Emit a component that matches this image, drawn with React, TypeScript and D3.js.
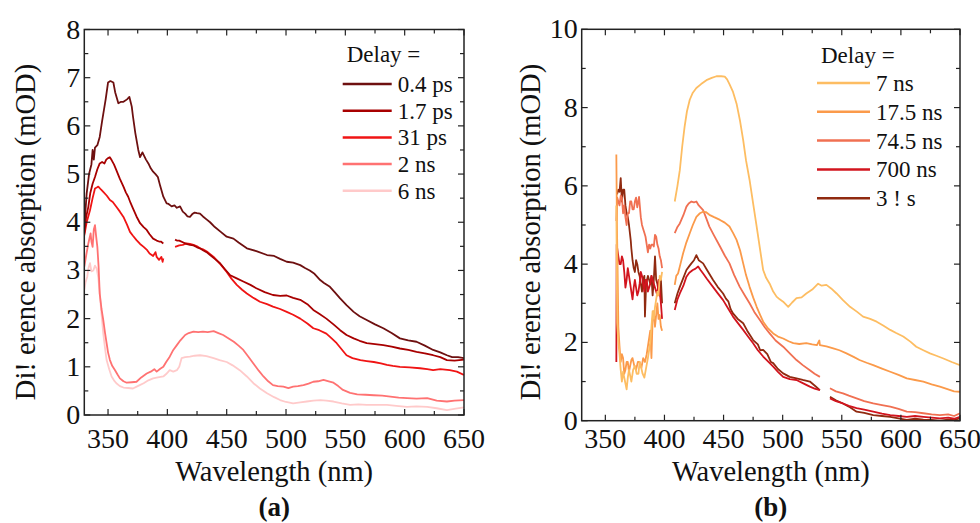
import React from "react";
import * as d3 from "d3";

type Pt = [number, number | null];

// ---------- Panel (a) ----------
const legendA = ["0.4 ps", "1.7 ps", "31 ps", "2 ns", "6 ns"];
const colorsA = ["#6e1010", "#a80000", "#f01414", "#ff7272", "#ffcaca"];

const a04ps: Pt[] = [
  [330, 3.9], [332, 4.6], [334, 5.0], [336, 5.2], [337, 5.5], [338, 5.3], [339, 5.55], [341, 5.6], [343, 5.77],
  [345, 6.1], [346, 6.25], [348, 6.55], [350, 6.9], [352, 6.93], [354.5, 6.9], [356, 6.7], [358.7, 6.47],
  [361, 6.5], [363, 6.5], [366, 6.55], [368, 6.6], [370, 6.4], [371, 6.2], [373, 5.85], [375.5, 5.5],
  [377, 5.35], [379, 5.45], [380, 5.4], [382, 5.3], [384, 5.22], [386, 5.12], [388, 5.05], [390, 5.0],
  [392, 4.94], [394, 4.75], [396.6, 4.53], [399.4, 4.39], [401, 4.38], [403.6, 4.33], [406, 4.35],
  [408, 4.3], [410.7, 4.33], [413, 4.22], [415, 4.18], [417, 4.12], [419, 4.11], [421, 4.17],
  [423, 4.2], [425, 4.19], [427.5, 4.18], [430, 4.12], [433, 4.06], [436, 4.0], [440, 3.9], [445, 3.8],
  [450, 3.7], [455.7, 3.66], [460, 3.58], [467, 3.46], [475, 3.4], [484, 3.32], [490, 3.3], [495, 3.24],
  [500.6, 3.18], [506, 3.16], [512, 3.11], [516, 3.05], [520, 3.0], [524, 2.93], [528.8, 2.8], [532, 2.74],
  [537, 2.66], [541, 2.55], [545.6, 2.42], [551, 2.28], [557, 2.14], [562, 2.05], [568, 1.97], [575, 1.88],
  [582, 1.8], [589, 1.7], [596, 1.59], [603, 1.55], [610, 1.52], [617, 1.44], [624, 1.35], [630, 1.3],
  [635.6, 1.24], [640, 1.2], [645, 1.2], [650, 1.18],
];

const a17ps: Pt[] = [
  [330, 3.77], [331.5, 4.1], [333.4, 4.32], [335, 4.6], [337, 4.8], [339, 4.94], [341, 5.1], [343, 5.22],
  [345, 5.25], [347, 5.22], [348.5, 5.3], [350, 5.33], [351.5, 5.35], [353, 5.29], [355, 5.2], [357, 5.08],
  [360, 4.9], [363, 4.74], [365, 4.62], [367, 4.53], [369, 4.4], [371, 4.29], [374, 4.12], [377, 3.98],
  [380, 3.9], [382.6, 3.84], [385, 3.75], [388, 3.66], [391, 3.62], [393, 3.6], [394.5, 3.6], [396.6, 3.56],
  [400, null],
  [406.5, 3.64], [408, 3.62], [410, 3.62], [413.5, 3.58], [416, 3.55], [419, 3.53], [422, 3.52],
  [425, 3.48], [427.5, 3.46], [430, 3.42], [433, 3.38], [436, 3.32], [440, 3.24], [444.4, 3.15],
  [448, 3.04], [453, 2.9], [458, 2.84], [464, 2.77], [470, 2.7], [475, 2.63], [482, 2.55], [489, 2.49],
  [495, 2.47], [500.6, 2.48], [506, 2.43], [512, 2.39], [518, 2.3], [523, 2.18], [528, 2.1], [534, 2.0],
  [540, 1.88], [545.6, 1.76], [551, 1.66], [557, 1.59], [562, 1.54], [568, 1.49], [575, 1.47],
  [582, 1.45], [589, 1.42], [596, 1.38], [603, 1.35], [610, 1.31], [617, 1.28], [624, 1.24], [630, 1.2],
  [635.6, 1.14], [642, 1.13], [650, 1.15],
];

const a31ps: Pt[] = [
  [330, 3.73], [332, 4.0], [334.8, 4.25], [337, 4.5], [339, 4.7], [340.5, 4.72], [341.8, 4.74], [344, 4.68],
  [346, 4.63], [349, 4.55], [351.6, 4.46], [354, 4.42], [357, 4.32], [360, 4.22], [363, 4.11], [366, 3.95],
  [368.5, 3.8], [371, 3.72], [374, 3.63], [377, 3.55], [380, 3.49], [383, 3.42], [385, 3.35], [388, 3.3],
  [390, 3.38], [391, 3.28], [393, 3.22], [395, 3.28], [396, 3.18], [396.6, 3.25],
  [400, null],
  [406.5, 3.49], [410, 3.52], [413, 3.53], [416, 3.56], [419, 3.55], [422, 3.53], [425, 3.5], [427.5, 3.46],
  [430, 3.44], [434, 3.38], [439, 3.28], [445, 3.12], [450, 2.97], [454, 2.83], [458.5, 2.7], [463, 2.6],
  [467, 2.52], [472, 2.44], [478, 2.35], [484, 2.3], [489, 2.25], [495, 2.2], [500.6, 2.14], [506, 2.08],
  [512, 2.0], [518, 1.9], [523, 1.8], [528, 1.76], [534, 1.69], [538, 1.6], [542.7, 1.49], [547, 1.36],
  [551, 1.24], [556, 1.18], [562.7, 1.14], [568, 1.12], [574, 1.1], [580, 1.07], [585, 1.04], [590, 1.02],
  [596, 1.0], [604, 0.99], [613, 0.97], [619, 0.95], [624, 0.93], [630, 0.95], [638, 0.93], [644, 0.9],
  [650, 0.83],
];

const a2ns: Pt[] = [
  [330, 3.08], [331.5, 3.3], [333.4, 3.56], [335.3, 3.77], [336, 3.6], [337, 3.49], [338, 3.85], [339, 3.94],
  [340, 3.7], [341, 3.49], [342, 3.1], [343, 2.52], [344.5, 2.2], [346, 1.97], [347.5, 1.7], [348.8, 1.49],
  [350, 1.3], [351.6, 1.14], [353.5, 1.02], [355.9, 0.93], [358, 0.84], [360, 0.76], [363, 0.7],
  [365.7, 0.67], [370, 0.68], [374, 0.69], [378, 0.78], [382.6, 0.86], [386, 0.9], [389, 0.95],
  [391, 0.9], [394, 0.96], [396.6, 1.0], [399, 1.1], [402, 1.21], [405, 1.35], [408, 1.45], [411, 1.55],
  [415, 1.66], [418, 1.7], [422, 1.73], [426, 1.72], [430, 1.73], [434, 1.72], [439, 1.74], [443, 1.7],
  [447, 1.66], [451, 1.6], [456, 1.52], [460, 1.44], [464, 1.35], [468, 1.22], [472.5, 1.07], [477, 0.92],
  [481, 0.8], [485, 0.7], [489, 0.62], [493, 0.6], [497.8, 0.59], [502, 0.56], [506, 0.59], [510, 0.6],
  [514.7, 0.62], [519, 0.65], [523, 0.69], [527, 0.7], [531.6, 0.73], [536, 0.7], [540, 0.67], [544, 0.6],
  [548, 0.52], [554, 0.46], [560, 0.43], [567, 0.42], [574, 0.41], [581, 0.4], [588, 0.38], [595, 0.36],
  [602, 0.35], [610, 0.34], [619, 0.35], [627, 0.3], [635.6, 0.28], [642, 0.3], [650, 0.31],
];

const a6ns: Pt[] = [
  [330, 2.6], [331, 2.75], [332.5, 2.87], [333.5, 3.05], [334.8, 3.15], [336, 2.98], [337.6, 3.0],
  [339, 3.1], [340.4, 3.04], [341.8, 2.85], [343, 2.52], [344.5, 2.1], [346, 1.69], [347.5, 1.38],
  [348.8, 1.14], [351, 0.95], [353, 0.8], [355, 0.72], [357, 0.66], [360, 0.6], [363, 0.57], [367, 0.56],
  [371, 0.55], [375, 0.6], [380, 0.66], [384, 0.72], [388, 0.76], [392, 0.78], [396.6, 0.8], [399, 0.85],
  [402, 0.93], [405, 0.9], [408, 0.93], [410, 1.0], [412, 1.18], [415, 1.2], [419, 1.21], [423, 1.23],
  [427.5, 1.24], [433, 1.22], [439, 1.18], [444, 1.14], [450, 1.1], [455, 1.03], [461, 0.93], [467, 0.8],
  [472.5, 0.66], [478, 0.55], [484, 0.45], [490, 0.37], [495, 0.31], [500, 0.27], [506, 0.24], [512, 0.26],
  [517.5, 0.28], [523, 0.3], [529, 0.31], [534, 0.3], [540, 0.28], [547, 0.24], [554, 0.21], [561, 0.22],
  [568, 0.21], [576, 0.21], [585, 0.21], [593, 0.19], [602, 0.17], [610, 0.18], [619, 0.17], [627, 0.14],
  [635.6, 0.1], [643, 0.13], [650, 0.16],
];

// ---------- Panel (b) ----------
const legendB = ["7 ns", "17.5 ns", "74.5 ns", "700 ns", "3 ! s"];
const colorsB = ["#fdbd62", "#fb9a4a", "#f07052", "#d2141e", "#902a10"];

const b7ns: Pt[] = [
  [359.3, 5.5], [360, 2.5], [361, 2.0], [362, 1.7], [363, 1.3], [364, 1.0], [365, 1.25], [366, 1.1],
  [367, 0.95], [368, 0.8], [369, 1.1], [370, 1.3], [371, 1.15], [372, 1.0], [373.5, 1.3], [375, 1.4],
  [376.5, 1.2], [378, 1.2], [379, 1.5], [380, 1.4], [381.5, 1.2], [383, 1.1], [384.5, 1.35], [386, 1.6],
  [387, 1.8], [388, 2.0], [389, 2.4], [390, 2.8], [391, 2.6], [392, 2.9], [393, 3.1], [394, 3.3],
  [395, 3.2], [396, 3.7], [397, 3.6], [398, 3.8],
  [403, null],
  [408.7, 5.6], [411, 6.0], [413, 6.4], [415, 7.0], [417, 7.5], [419, 7.9], [421.4, 8.2], [424, 8.38],
  [427, 8.5], [431, 8.6], [435.5, 8.7], [440, 8.76], [444, 8.8], [448, 8.8], [451, 8.79], [453, 8.72],
  [455, 8.6], [458, 8.4], [461, 8.1], [464, 7.65], [466.6, 7.17], [469, 6.65], [472, 6.15], [475, 5.55],
  [478, 4.96], [481, 4.35], [483.5, 3.85], [486, 3.65], [489, 3.5], [492, 3.3], [494.8, 3.17],
  [497.5, 3.1], [500.4, 3.04], [504.7, 2.91], [508, 3.02], [511.7, 3.13], [516, 3.15], [520, 3.25],
  [525, 3.35], [530, 3.5], [533, 3.45], [537, 3.47], [541, 3.38], [545.6, 3.25], [551, 3.08],
  [557, 2.91], [563, 2.78], [568, 2.66], [574, 2.6], [579.5, 2.53], [585, 2.43], [591, 2.32],
  [596, 2.24], [602, 2.15], [608, 2.02], [613, 1.89], [619, 1.8], [624.6, 1.72], [630, 1.66],
  [636, 1.59], [643, 1.5], [650, 1.42],
];

const b175ns: Pt[] = [
  [359.3, 6.8], [359.8, 5.0], [360.3, 4.0], [361, 2.4], [362, 1.9], [363, 1.5], [364, 1.7], [365, 1.6],
  [366, 1.2], [367, 1.3], [368, 1.5], [369, 1.5], [370, 1.25], [371, 1.4], [372, 1.55], [373, 1.6],
  [374.5, 1.4], [376, 1.3], [377.5, 1.5], [379, 1.5], [380.5, 1.35], [382, 1.6], [383.5, 1.5], [385, 1.7],
  [386.5, 2.0], [388, 2.3], [389, 1.6], [390, 2.6], [391, 2.8], [392, 2.4], [393, 2.7], [394, 3.0],
  [395, 2.6], [396, 2.7], [397, 2.4], [398, 2.3],
  [403, null],
  [408.7, 3.47], [410, 3.7], [411.5, 3.76], [413.5, 4.0], [415.8, 4.28], [418.5, 4.55], [421.4, 4.79],
  [424, 5.0], [427, 5.21], [430, 5.3], [432.7, 5.34], [435, 5.33], [438, 5.26], [442, 5.2], [447, 5.13],
  [451, 5.06], [455, 4.96], [458, 4.8], [461, 4.62], [464, 4.35], [466.6, 4.02], [469, 3.72], [472, 3.42],
  [475, 3.15], [478, 2.91], [481, 2.7], [483.5, 2.53], [487, 2.38], [492, 2.23], [496, 2.15], [500.4, 2.1],
  [505, 2.03], [509, 1.98], [514, 1.96], [520, 1.98], [525, 1.95], [529, 1.93], [531, 2.05], [531.5, 1.93],
  [537, 1.9], [542.8, 1.85], [548, 1.8], [554, 1.72], [560, 1.63], [565, 1.55], [571, 1.48], [576.6, 1.42],
  [584, 1.33], [591, 1.25], [598, 1.17], [605, 1.08], [612, 1.04], [619, 1.0], [626, 0.93], [633, 0.87],
  [640, 0.8], [645, 0.75], [650, 0.74],
];

const b745ns: Pt[] = [
  [359.3, 5.1], [360, 5.7], [361, 5.6], [362, 5.5], [363, 5.75], [364, 5.7], [365, 5.3], [366, 5.5],
  [367, 5.2], [368, 5.0], [369, 5.3], [370, 5.3], [371, 5.6], [372, 5.6], [373, 5.4], [374, 5.4],
  [375, 5.6], [376, 5.7], [377, 5.45], [378.5, 5.72], [380, 5.2], [381, 5.0], [382, 4.9], [383, 4.8],
  [384, 4.7], [385, 4.5], [386, 4.3], [387, 4.5], [388, 4.4], [389, 4.5], [390, 4.5], [391, 4.45],
  [392, 4.75], [393, 4.7], [394, 4.5], [395, 4.4], [396, 4.2], [397, 4.1], [398, 3.9],
  [403, null],
  [408.7, 4.79], [411, 4.95], [413, 5.04], [416, 5.25], [418.6, 5.47], [420.5, 5.55], [422.8, 5.6],
  [425, 5.58], [427, 5.6], [429, 5.5], [432.7, 5.38], [435, 5.2], [438, 4.96], [442, 4.73], [447, 4.45],
  [451, 4.22], [455, 4.02], [459, 3.72], [463.7, 3.42], [468, 3.2], [472, 3.0], [476, 2.78], [480.7, 2.57],
  [485, 2.38], [489, 2.23], [494, 2.05], [500.4, 1.89], [506, 1.72], [511.7, 1.55], [517, 1.42],
  [523, 1.29], [527, 1.2], [531.5, 1.12],
  [535, null],
  [540, 0.83], [545, 0.75], [551, 0.7], [556, 0.64], [562.5, 0.57], [569, 0.5], [576.6, 0.44], [584, 0.4],
  [591, 0.36], [598, 0.3], [605, 0.23], [612, 0.22], [619, 0.19], [626, 0.16], [633, 0.14], [640, 0.16],
  [645, 0.12], [650, 0.19],
];

const b700ns: Pt[] = [
  [359.3, 1.5], [359.6, 4.5], [360.5, 4.3], [361, 4.2], [362, 4.0], [363, 4.0], [364, 4.2], [365, 4.1],
  [366, 3.8], [367, 3.4], [368, 3.6], [369, 3.9], [370, 3.7], [371, 3.5], [372, 3.3], [373, 3.1],
  [374, 3.4], [375, 3.6], [376, 3.4], [377, 3.2], [378, 3.3], [379, 3.5], [380, 3.8], [381, 3.7],
  [382, 3.5], [383, 3.3], [384, 3.6], [385, 3.6], [386, 3.3], [387, 3.4], [388, 3.5], [389, 3.7],
  [390, 3.6], [391, 3.5], [392, 3.4], [393, 3.3], [394, 3.2], [395, 3.6], [396, 3.3], [397, 3.0],
  [398, 2.6],
  [403, null],
  [408.7, 2.83], [411, 3.1], [413, 3.25], [416, 3.45], [418.6, 3.68], [421, 3.78], [424, 3.85],
  [426, 3.88], [428.5, 3.94], [430.5, 3.85], [432.7, 3.76], [436, 3.62], [441, 3.42], [445, 3.26],
  [449.6, 3.08], [454, 2.86], [458, 2.66], [462, 2.5], [466.6, 2.32], [471, 2.14], [475, 1.98],
  [479, 1.8], [483.5, 1.64], [488, 1.5], [492, 1.38], [496, 1.25], [500.4, 1.12], [506, 1.06],
  [511.7, 1.04], [517, 0.96], [523, 0.87], [527, 0.82], [531.5, 0.78],
  [535, null],
  [540, 0.57], [545, 0.5], [551, 0.44], [556, 0.38], [562.5, 0.32], [569, 0.28], [576.6, 0.23],
  [584, 0.18], [591, 0.14], [598, 0.12], [605, 0.1], [612, 0.12], [619, 0.1], [626, 0.08], [633, 0.06],
  [640, 0.08], [645, 0.05], [650, 0.1],
];

const b3us: Pt[] = [
  [359.3, 5.8], [360, 5.8], [361, 5.9], [362, 5.85], [363, 6.2], [364, 5.6], [365, 5.9], [366, 5.9],
  [367, 5.5], [368, 5.3], [369, 5.2], [370, 5.0], [371.5, 4.6], [372, 4.4], [373, 4.1], [374, 3.9],
  [375, 3.8], [376, 4.1], [377, 4.0], [378, 3.8], [379, 3.7], [380, 3.5], [381, 3.3], [382, 3.6],
  [383, 3.7], [383.5, 2.66], [384.5, 3.5], [386, 3.7], [387, 3.6], [388, 3.5], [389, 3.7], [390, 3.2],
  [391, 3.6], [392, 4.2], [393, 3.6], [394, 3.5], [395, 3.3], [396, 3.2], [397, 3.6], [398, 3.0],
  [403, null],
  [408.7, 3.0], [411, 3.25], [413, 3.42], [416, 3.65], [418.6, 3.85], [421, 3.95], [422.8, 4.02],
  [425, 4.1], [427, 4.23], [429, 4.1], [432.7, 4.02], [436, 3.85], [441, 3.6], [445, 3.42],
  [449.6, 3.25], [452, 3.12], [454, 3.05], [456, 2.85], [458, 2.74], [462, 2.6], [466.6, 2.49],
  [470, 2.3], [475, 2.06], [479, 1.95], [481, 1.8], [483.5, 1.81], [487, 1.7], [490, 1.5],
  [492, 1.47], [496, 1.32], [500.4, 1.21], [506, 1.12], [511.7, 1.08], [517, 1.04], [523, 1.0],
  [527, 0.9], [531.5, 0.78],
  [535, null],
  [540, 0.61], [545, 0.52], [551, 0.44], [556, 0.36], [562.5, 0.23], [569, 0.2], [576.6, 0.14],
  [584, 0.12], [591, 0.1], [598, 0.06], [605, 0.02], [612, 0.05], [619, 0.03], [626, 0.02], [633, 0.0],
  [640, 0.03], [645, 0.02], [650, 0.06],
];

const xTicks = [350, 400, 450, 500, 550, 600, 650];
const yTicksA = [0, 1, 2, 3, 4, 5, 6, 7, 8];
const yTicksB = [0, 2, 4, 6, 8, 10];

const FONT = '"Liberation Serif", "Times New Roman", Times, "DejaVu Serif", serif';
const txt = { fontFamily: FONT };

interface PanelProps {
  left: number; right: number; top: number; bottom: number;
  yMax: number; yTicks: number[]; yMinorStep: number;
  series: Pt[][]; colors: string[]; labels: string[];
  yLabelX: number; tag: string;
  legendX: number; legendTitleY: number; legendY0: number; legendStep: number; legendLen: number;
}

function Panel(p: PanelProps) {
  const x = d3.scaleLinear().domain([330, 650]).range([p.left, p.right]);
  const y = d3.scaleLinear().domain([0, p.yMax]).range([p.bottom, p.top]);
  const line = d3.line<Pt>()
    .defined((d) => d[1] !== null)
    .x((d) => x(d[0]))
    .y((d) => y(d[1] as number));
  const xMinor = d3.range(350, 651, 25);
  const yMinor = d3.range(0, p.yMax + 0.001, p.yMinorStep);
  const cx = (p.left + p.right) / 2;
  return (
    <g>
      <defs>
        <clipPath id={"clip" + p.tag}>
          <rect x={p.left} y={p.top} width={p.right - p.left} height={p.bottom - p.top} />
        </clipPath>
      </defs>
      <g clipPath={`url(#clip${p.tag})`}>
        {p.series.map((s, i) => (
          <path key={i} d={line(s) || ""} fill="none" stroke={p.colors[i]} strokeWidth={1.8} strokeLinejoin="round" />
        )).reverse()}
      </g>
      {xMinor.map((t) => {
        const major = t % 50 === 0;
        const len = major ? 6 : 4;
        return (
          <g key={"x" + t}>
            <line x1={x(t)} x2={x(t)} y1={p.bottom} y2={p.bottom - len} stroke="#222" strokeWidth={1.2} />
            <line x1={x(t)} x2={x(t)} y1={p.top} y2={p.top + len} stroke="#222" strokeWidth={1.2} />
          </g>
        );
      })}
      {yMinor.map((t) => {
        const major = p.yTicks.includes(Math.round(t * 100) / 100);
        const len = major ? 6 : 4;
        return (
          <g key={"y" + t}>
            <line x1={p.left} x2={p.left + len} y1={y(t)} y2={y(t)} stroke="#222" strokeWidth={1.2} />
            <line x1={p.right} x2={p.right - len} y1={y(t)} y2={y(t)} stroke="#222" strokeWidth={1.2} />
          </g>
        );
      })}
      <rect x={p.left} y={p.top} width={p.right - p.left} height={p.bottom - p.top} fill="none" stroke="#222" strokeWidth={1.5} />
      {xTicks.map((t) => (
        <text key={"xl" + t} x={x(t)} y={448} textAnchor="middle" fontSize={28} style={txt} fill="#111">{t}</text>
      ))}
      {p.yTicks.map((t) => (
        <text key={"yl" + t} x={p.left - 4} y={y(t) + 9} textAnchor="end" fontSize={28} style={txt} fill="#111">{t}</text>
      ))}
      <text x={cx} y={481} textAnchor="middle" fontSize={28.5} style={txt} fill="#111">Wavelength (nm)</text>
      <text transform={`translate(${p.yLabelX},${232}) rotate(-90)`} textAnchor="middle" fontSize={28.5} style={txt} fill="#111">Di! erence absorption (mOD)</text>
      <text x={cx} y={516} textAnchor="middle" fontSize={27} fontWeight="bold" style={txt} fill="#111">{`(${p.tag})`}</text>
      <text x={p.legendX + 4} y={p.legendTitleY} fontSize={23} style={txt} fill="#111">Delay =</text>
      {p.labels.map((l, i) => {
        const ly = p.legendY0 + i * p.legendStep;
        return (
          <g key={"lg" + i}>
            <line x1={p.legendX} x2={p.legendX + p.legendLen} y1={ly} y2={ly} stroke={p.colors[i]} strokeWidth={2.5} />
            <text x={p.legendX + p.legendLen + 6} y={ly + 8} fontSize={23} style={txt} fill="#111">{l}</text>
          </g>
        );
      })}
    </g>
  );
}

export default function App() {
  return (
    <svg width={980} height={523} style={{ position: "absolute", left: 0, top: 0, background: "#fff" }}>
      <rect width={980} height={523} fill="#fff" />
      <Panel
        left={84.3} right={464} top={29.5} bottom={415}
        yMax={8} yTicks={yTicksA} yMinorStep={0.5}
        series={[a04ps, a17ps, a31ps, a2ns, a6ns]} colors={colorsA} labels={legendA}
        yLabelX={35} tag="a"
        legendX={342.7} legendTitleY={62} legendY0={84} legendStep={26.7} legendLen={49}
      />
      <Panel
        left={581.7} right={960} top={29.3} bottom={420.7}
        yMax={10} yTicks={yTicksB} yMinorStep={1}
        series={[b7ns, b175ns, b745ns, b700ns, b3us]} colors={colorsB} labels={legendB}
        yLabelX={540} tag="b"
        legendX={817} legendTitleY={63} legendY0={83} legendStep={28.8} legendLen={53}
      />
    </svg>
  );
}
